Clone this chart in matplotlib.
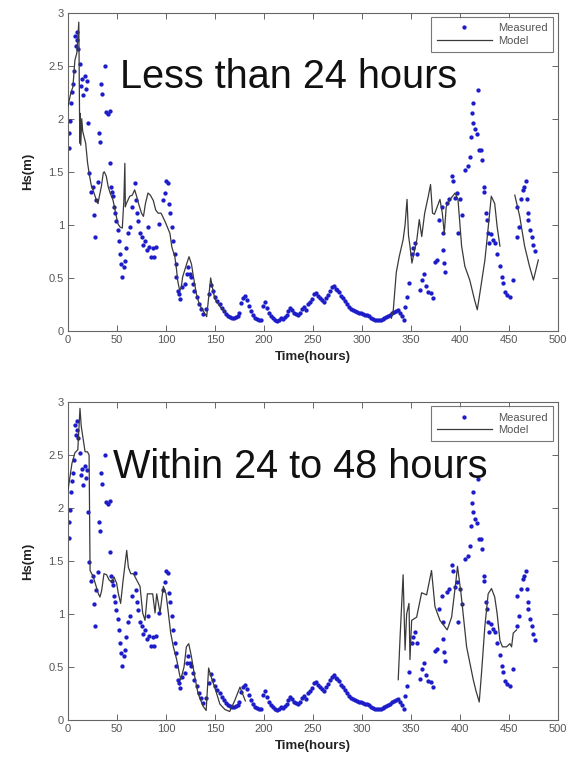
import numpy as np
import matplotlib
matplotlib.use("Agg")
import matplotlib.pyplot as plt

plt.rcParams['font.family'] = ['Liberation Sans', 'DejaVu Sans']

# ---------------- data ----------------
meas_t = [0.7, 1.0, 2, 3, 4, 5, 6, 7, 8, 9, 9.5, 10, 12, 13, 14.6, 15, 17, 18, 19, 20,
          21, 23, 25.5, 27, 28, 29, 30.6, 32, 32.5, 34, 35, 38, 39, 41, 42.5, 43, 44, 45, 46, 46.6,
          47.6, 48.6, 51, 52, 53.4, 54, 55.4, 57, 58, 59.5, 61, 63, 65.6, 68, 69, 70, 71.4, 73, 76, 77,
          79, 80.6, 81.6, 83, 85, 86.7, 88, 90, 93, 97, 98.6, 100, 102, 103, 104, 106, 107, 109, 110, 110.5,
          112, 113, 114.6, 116.7, 119, 121, 122.5, 124, 126, 127.5, 129, 131.6, 134, 136, 138, 141, 144, 146, 148, 150,
          152, 155, 157, 159, 161, 163, 165, 167, 169, 171, 173, 175, 177, 179, 181, 183, 185, 187, 189, 191,
          193, 195, 197, 199, 201, 203, 205, 207, 209, 211, 213, 215, 217, 219, 221, 223, 225, 227, 229, 231,
          233, 235, 237, 239, 241, 243, 245, 247, 249, 251, 253, 255, 257, 259, 261, 263, 265, 267, 269, 271,
          273, 275, 277, 279, 281, 283, 285, 287, 289, 291, 293, 295, 297, 299, 301, 303, 305, 307, 309, 311,
          313, 315, 317, 319, 321, 323, 325, 327, 329, 331, 333, 335, 337, 339, 341, 342.5, 343.9, 345.6, 348.3, 350.7,
          352.4, 354, 355.8, 359.2, 360.9, 363.2, 365.3, 367.7, 370, 372.8, 375, 376.2, 378.9, 381.3, 382.3, 383, 384, 384.7, 386.4, 389,
          391.4, 393.1, 394.8, 396.5, 398.2, 399.9, 401.6, 405, 408.4, 410, 410.8, 411.8, 412.9, 413.6, 415.3, 417, 418.7, 419.7, 422, 423,
          424.4, 425, 426.5, 427.9, 428.9, 429.9, 431.3, 433.3, 435.7, 437.4, 440.8, 442.5, 444.2, 445.9, 447.6, 451, 454.4, 457.8, 458.5, 460.5,
          461.9, 463.9, 465.3, 467.4, 468, 469, 469.7, 471.4, 473.1, 474.8, 476.5]
meas_hs = [1.72, 1.87, 1.98, 2.15, 2.25, 2.33, 2.45, 2.78, 2.69, 2.82, 2.74, 2.66, 2.52, 2.31, 2.37, 2.22, 2.40, 2.28, 2.36, 1.96,
           1.49, 1.31, 1.36, 1.09, 0.89, 1.23, 1.40, 1.87, 1.78, 2.33, 2.23, 2.50, 2.06, 2.04, 2.07, 1.58, 1.36, 1.31, 1.27, 1.17,
           1.11, 1.04, 0.95, 0.85, 0.73, 0.63, 0.51, 0.60, 0.66, 0.78, 0.92, 0.98, 1.17, 1.39, 1.23, 1.11, 1.04, 0.92, 0.89, 0.81,
           0.85, 0.76, 0.98, 0.79, 0.70, 0.78, 0.70, 0.79, 1.01, 1.23, 1.30, 1.41, 1.39, 1.20, 1.11, 0.98, 0.85, 0.73, 0.63, 0.51,
           0.38, 0.35, 0.30, 0.41, 0.44, 0.54, 0.60, 0.54, 0.51, 0.44, 0.38, 0.32, 0.25, 0.21, 0.16, 0.21, 0.35, 0.43, 0.38, 0.32,
           0.28, 0.25, 0.22, 0.19, 0.16, 0.14, 0.13, 0.12, 0.12, 0.13, 0.14, 0.17, 0.26, 0.31, 0.33, 0.29, 0.24, 0.19, 0.15, 0.12,
           0.11, 0.10, 0.10, 0.24, 0.27, 0.22, 0.17, 0.14, 0.12, 0.10, 0.09, 0.10, 0.12, 0.11, 0.13, 0.15, 0.19, 0.22, 0.20, 0.17,
           0.16, 0.15, 0.17, 0.21, 0.23, 0.20, 0.25, 0.27, 0.30, 0.35, 0.36, 0.33, 0.31, 0.29, 0.27, 0.31, 0.34, 0.38, 0.41, 0.42,
           0.40, 0.39, 0.37, 0.33, 0.31, 0.28, 0.25, 0.23, 0.21, 0.20, 0.19, 0.18, 0.17, 0.17, 0.16, 0.15, 0.15, 0.14, 0.12, 0.11,
           0.10, 0.10, 0.10, 0.10, 0.11, 0.12, 0.13, 0.14, 0.15, 0.17, 0.18, 0.19, 0.20, 0.17, 0.14, 0.10, 0.23, 0.32, 0.45, 0.73,
           0.78, 0.83, 0.73, 0.39, 0.48, 0.54, 0.42, 0.37, 0.36, 0.31, 0.65, 0.67, 1.05, 1.17, 0.92, 0.76, 0.64, 0.56, 1.21, 1.24,
           1.46, 1.41, 1.25, 1.30, 0.92, 1.24, 1.09, 1.52, 1.55, 1.64, 1.83, 2.05, 1.96, 2.15, 1.90, 1.86, 2.27, 1.71, 1.71, 1.61,
           1.36, 1.31, 1.11, 1.05, 0.92, 0.83, 0.91, 0.86, 0.83, 0.73, 0.61, 0.51, 0.45, 0.37, 0.34, 0.32, 0.48, 0.89, 1.17, 0.98,
           1.24, 1.33, 1.36, 1.41, 1.24, 1.11, 1.05, 0.95, 0.89, 0.81, 0.75]

# Model, forecast < 24 h (NaN = no model output)
model24_t = [0, 3, 5, 7, 9, 11, 12, 12.5, 13, 14, 15, 18, 20, 22, 24, 25.5, 29, 30.6, 32, 34,
             36, 37, 39, 41, 43, 46, 48.6, 51, 53, 55.4, 57, 58, 58.5, 59.5, 63, 65.6, 68, 70, 72, 75,
             77, 79, 81.6, 84, 87, 89.5, 92, 95, 98.6, 100, 104, 106, 109, 110.5, 112, 114, 115.5, 117, 121, 123.5,
             126, 128, 131, 134, 138, 141.5, 145.6, 148, 150, 155, 160, 245,
             330, 332, 335, 338, 342, 344, 346, 347.5, 349, 351, 356, 358.5, 361, 364, 367.7, 370, 372, 374, 379.6, 382,
             384, 386, 390, 395, 398, 401.7, 405, 410, 415, 417.7, 420.4, 425.5, 428.9, 432, 435.5, 438, 440.8, 448,
             456, 461, 466, 471, 475, 480]
model24_hs = [2.12, 2.25, 2.30, 2.55, 2.62, 2.91, 1.77, 2.05, 1.75, 2.00, 1.88, 1.77, 1.58, 1.46, 1.36, 1.33, 1.23, 1.20, 1.27, 1.36,
              1.49, 1.50, 1.46, 1.36, 1.30, 1.23, 1.11, 1.01, 0.98, 0.97, 1.23, 1.58, 1.17, 1.20, 1.27, 1.28, 1.33, 1.27, 1.20, 1.11,
              1.08, 1.20, 1.30, 1.28, 1.23, 1.14, 1.11, 1.11, 1.04, 1.01, 0.92, 0.79, 0.70, 0.60, 0.47, 0.38, 0.41, 0.51, 0.63, 0.70,
              0.63, 0.51, 0.35, 0.25, 0.19, 0.135, 0.50, 0.38, 0.30, 0.23, 0.18, np.nan,
              0.12, 0.20, 0.55, 0.70, 0.86, 1.00, 1.24, 0.90, 0.80, 0.64, 0.86, 1.05, 0.89, 1.11, 1.27, 1.38, 1.11, 1.10, 1.24, 1.11,
              0.92, 1.17, 1.24, 1.30, 1.24, 0.80, 0.61, 0.48, 0.29, 0.20, 0.36, 0.67, 0.98, 1.27, 1.20, 0.98, 0.80, np.nan,
              1.28, 1.08, 0.80, 0.61, 0.48, 0.67]

# Model, forecast 24-48 h
model48_t = [0, 4, 7, 10, 12.2, 13.5, 17.4, 19.8, 21.5, 22.5, 25.8, 31, 32.6, 34.3, 36.7, 39.4, 42, 44.6, 46.9, 49.6,
             51.4, 53.7, 56, 59.9, 61.6, 64, 66.7, 70.1, 73.5, 76.2, 78.6, 81, 83.7, 86.4, 88.8, 90.5, 93.9, 97.3, 100, 102.4,
             104.8, 107.5, 110.9, 113.6, 115, 118.4, 120.8, 123.2, 125.9, 129.3, 132.7, 137.8, 141, 143.5, 146, 150, 155, 160, 165, 170,
             175.5, 178, 181, 260,
             337, 339, 342, 344, 345.6, 348, 349, 350.7, 355.8, 360.9, 366, 371, 374.5, 379.6, 387, 391.5, 396, 397.5, 401, 406.8,
             413.6, 416.2, 419.7, 422, 425.4, 428.8, 432.2, 435.5, 438, 440.8, 443.4, 447.6, 451, 452.7, 454.4, 457.8]
model48_hs = [2.17, 2.42, 2.52, 2.55, 2.94, 2.77, 2.53, 2.53, 2.50, 1.41, 1.35, 1.19, 1.16, 1.22, 1.38, 1.37, 1.32, 1.30, 1.35, 1.29,
              1.19, 1.10, 1.30, 1.60, 1.44, 1.38, 1.38, 1.32, 1.26, 1.01, 0.94, 1.19, 1.19, 1.19, 1.01, 1.19, 1.01, 1.26, 1.19, 1.01,
              0.82, 0.69, 0.57, 0.44, 0.38, 0.50, 0.69, 0.72, 0.60, 0.41, 0.25, 0.13, 0.09, 0.49, 0.41, 0.30, 0.15, 0.10, 0.08, 0.18,
              0.31, 0.25, 0.18, np.nan,
              0.38, 0.80, 1.37, 0.66, 1.00, 1.10, 0.57, 0.94, 0.97, 1.20, 1.18, 1.41, 1.07, 0.94, 0.85, 0.97, 1.32, 1.45, 1.20, 0.69,
              0.38, 0.28, 0.17, 0.44, 0.88, 1.19, 1.24, 1.16, 1.00, 0.75, 0.69, 0.69, 0.72, 0.69, 0.82, 0.85]

titles = ["Less than 24 hours", "Within 24 to 48 hours"]
x_ticks = [0, 50, 100, 150, 200, 250, 300, 350, 400, 450, 500]
y_ticks = [0, 0.5, 1, 1.5, 2, 2.5, 3]
y_ticklabels = ["0", "0.5", "1", "1.5", "2", "2.5", "3"]

# ---------------- figure ----------------
fig = plt.figure(figsize=(5.75, 7.59), dpi=100)
axes_rects = [[0.1183, 0.5639, 0.852, 0.4195], [0.1183, 0.0514, 0.852, 0.4190]]
models = [(model24_t, model24_hs), (model48_t, model48_hs)]
title_pos = [(53, 2.29), (46, 2.28)]

tick_color = '#555555'
blue = '#1c1cc8'

for i in range(2):
    ax = fig.add_axes(axes_rects[i])
    ax.plot(meas_t, meas_hs, linestyle='none', marker='o', markersize=3.1,
            color=blue, markeredgewidth=0, label='Measured', zorder=2)
    mt, mh = models[i]
    ax.plot(mt, mh, color='#3a3a3a', linewidth=0.9, label='Model', zorder=3)

    ax.set_xlim(0, 500)
    ax.set_ylim(0, 3)
    ax.set_xticks(x_ticks)
    ax.set_xticklabels([str(v) for v in x_ticks])
    ax.set_yticks(y_ticks)
    ax.set_yticklabels(y_ticklabels)
    ax.tick_params(direction='in', length=4, width=0.7, top=True, right=True,
                   labelsize=8, labelcolor=tick_color, color='#666666', pad=3)
    for sp in ax.spines.values():
        sp.set_color('#666666')
        sp.set_linewidth(0.8)

    ax.set_xlabel('Time(hours)', fontsize=9.5, fontweight='bold', labelpad=4, color='#222222')
    ax.set_ylabel('Hs(m)', fontsize=9.5, fontweight='bold', labelpad=10, color='#222222')

    tx, ty = title_pos[i]
    ax.text(tx, ty, titles[i], fontsize=28.5, color='#111111', ha='left', va='baseline', zorder=4)

    leg = ax.legend(loc='upper right', fontsize=8, frameon=True, fancybox=False,
                    borderpad=0.55, handlelength=5.0, handletextpad=0.5, labelspacing=0.25,
                    borderaxespad=0.4, markerscale=1.0)
    leg.get_frame().set_edgecolor('#555555')
    leg.get_frame().set_linewidth(0.8)
    for t in leg.get_texts():
        t.set_color('#555555')

fig.savefig('out.png', dpi=100, facecolor='white')
